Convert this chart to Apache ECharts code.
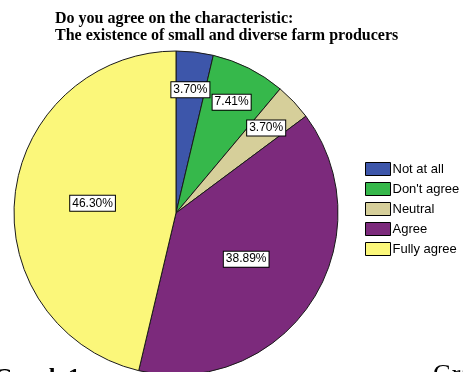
<!DOCTYPE html>
<html>
<head>
<meta charset="utf-8">
<script src="https://cdn.jsdelivr.net/npm/echarts@6/dist/echarts.min.js"></script>
<style>
html,body{margin:0;padding:0;background:#fff;}
#chart{width:463px;height:372px;}
</style>
</head>
<body>
<div id="chart"></div>
<script>
const categories = ["Not at all", "Don't agree", "Neutral", "Agree", "Fully agree"];
const percentages = [3.70, 7.41, 3.70, 38.89, 46.30];
const sliceColors = ["#3d56aa", "#36b84b", "#d6cf9a", "#7c2a7c", "#fbf77a"];
const outerLabelCats = ["Not at all", "Don't agree", "Neutral"];
const titleLines = ["Do you agree on the characteristic:", "The existence of small and diverse farm producers"];

const chart = echarts.init(document.getElementById('chart'), null, {renderer: 'canvas'});

const labelBox = {
  color: '#000',
  fontFamily: 'Liberation Sans',
  fontSize: 12,
  backgroundColor: '#fff',
  borderColor: '#000',
  borderWidth: 1,
  padding: [2, 2, 1, 2],
  formatter: p => p.value.toFixed(2) + '%'
};

const mainData = categories.map((c, i) => ({
  name: c,
  value: percentages[i],
  itemStyle: {color: sliceColors[i]},
  label: {show: !outerLabelCats.includes(c)}
}));
const ghostData = categories.map((c, i) => ({
  name: c,
  value: percentages[i],
  itemStyle: {color: 'rgba(0,0,0,0)'},
  label: {show: outerLabelCats.includes(c)}
}));

chart.setOption({
  animation: false,
  backgroundColor: '#fff',
  title: {
    text: titleLines.join('\n'),
    left: 50,
    top: 5,
    textStyle: {
      fontFamily: 'Liberation Serif',
      fontWeight: 'bold',
      fontSize: 16,
      lineHeight: 17,
      color: '#000'
    }
  },
  legend: {
    orient: 'vertical',
    left: 360,
    top: 157,
    itemWidth: 25,
    itemHeight: 13,
    itemGap: 6,
    icon: 'rect',
    selectedMode: false,
    textStyle: {
      fontFamily: 'Liberation Sans',
      fontSize: 13,
      color: '#000',
      padding: [0, 0, 0, -3]
    },
    data: categories.map((c, i) => ({
      name: c,
      itemStyle: {color: sliceColors[i], borderColor: '#000', borderWidth: 1}
    }))
  },
  series: [
    {
      type: 'pie',
      name: 'main',
      center: [176, 213],
      radius: [0, 162],
      startAngle: 90,
      clockwise: true,
      avoidLabelOverlap: false,
      silent: true,
      emphasis: {disabled: true},
      itemStyle: {borderColor: '#1a1a1a', borderWidth: 1},
      label: Object.assign({position: 'inside'}, labelBox),
      labelLine: {show: false},
      data: mainData
    },
    {
      type: 'pie',
      name: 'labels',
      center: [176, 213],
      radius: [100, 142],
      startAngle: 90,
      clockwise: true,
      avoidLabelOverlap: false,
      silent: true,
      emphasis: {disabled: true},
      itemStyle: {borderWidth: 0},
      label: Object.assign({position: 'inside'}, labelBox),
      labelLine: {show: false},
      data: ghostData
    }
  ],
  graphic: [
    {
      type: 'text',
      right: 383,
      top: 366,
      style: {text: 'Graph 1', font: 'bold 24px "Liberation Serif"', fill: '#000'}
    },
    {
      type: 'text',
      left: 433,
      top: 362,
      style: {text: 'Graph 2', font: '26px "Liberation Serif"', fill: '#000'}
    }
  ]
});
</script>
</body>
</html>
